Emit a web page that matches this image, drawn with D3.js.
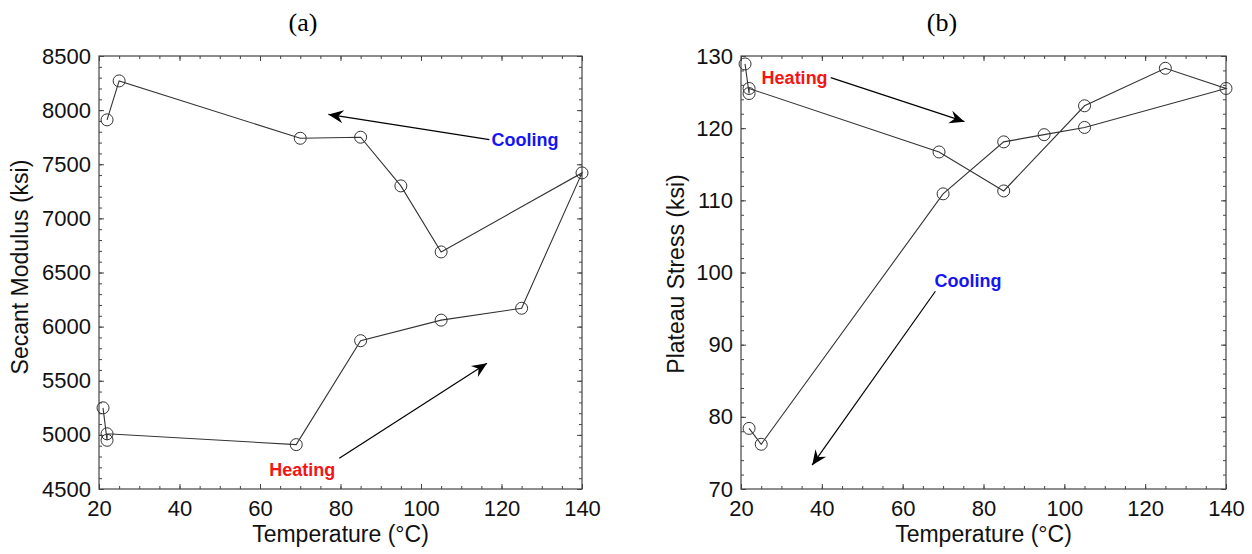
<!DOCTYPE html>
<html>
<head>
<meta charset="utf-8">
<script src="https://cdn.jsdelivr.net/npm/d3@7"></script>
<style>
  html, body { margin: 0; padding: 0; background: #fff; }
  svg { display: block; }
</style>
</head>
<body>
<svg id="chart" width="1252" height="554"></svg>
<script>
// ---------------- data ----------------
const temperatureA = [21, 22, 22, 69, 85, 105, 125, 140, 105, 95, 85, 70, 25, 22];
const secantModulus = [5250, 4950, 5010, 4910, 5870, 6060, 6170, 7420, 6690, 7300, 7750, 7740, 8270, 7910];

const temperatureB = [21, 22, 22, 69, 85, 105, 125, 140, 105, 95, 85, 70, 25, 22];
const plateauStress = [128.9, 124.8, 125.5, 116.7, 111.3, 123.1, 128.3, 125.5, 120.1, 119.1, 118.1, 110.9, 76.2, 78.4];

const xTicks = [20, 40, 60, 80, 100, 120, 140];
const yTicksA = [4500, 5000, 5500, 6000, 6500, 7000, 7500, 8000, 8500];
const yTicksB = [70, 80, 90, 100, 110, 120, 130];

// annotations (data coordinates)
const labelsA = [
  { text: "Cooling", x: 117.5, y: 7725, color: "#1414f5" },
  { text: "Heating", x: 62.3, y: 4675, color: "#f51414" }
];
const arrowsA = [
  { from: [117, 7727], to: [77, 7960] },
  { from: [79.7, 4784], to: [116.4, 5661] }
];
const labelsB = [
  { text: "Heating", x: 25.1, y: 127.0, color: "#f51414" },
  { text: "Cooling", x: 67.9, y: 98.8, color: "#1414f5" }
];
const arrowsB = [
  { from: [42.2, 127.0], to: [75.3, 120.9] },
  { from: [68.1, 97.4], to: [37.6, 73.3] }
];

// ---------------- drawing ----------------
const svg = d3.select("#chart");
const SANS = "'Liberation Sans', Arial, Helvetica, sans-serif";
const SERIF = "'Liberation Serif', 'Times New Roman', serif";

svg.append("defs").append("marker")
  .attr("id", "head")
  .attr("viewBox", "-16 -8 17 16")
  .attr("refX", 0).attr("refY", 0)
  .attr("markerUnits", "userSpaceOnUse")
  .attr("markerWidth", 17).attr("markerHeight", 16)
  .attr("orient", "auto")
  .append("path")
  .attr("d", "M0,0 L-15,-6.5 L-10,0 L-15,6.5 Z")
  .attr("fill", "#000");

function panel(cfg) {
  const x = d3.scaleLinear().domain([20, 140]).range(cfg.xr);
  const y = d3.scaleLinear().domain(cfg.yd).range([489, 56]);
  const g = svg.append("g");
  const [x0, x1] = cfg.xr;
  const y0 = 489, y1 = 56;

  const minorX = d3.range(20, 140.001, 5);
  const minorY = d3.range(cfg.yd[0], cfg.yd[1] + 1e-9, cfg.yMinor);

  const styleAxis = sel => {
    sel.select(".domain").remove();
    sel.selectAll(".tick line").attr("stroke", "#444").attr("stroke-width", 1);
    sel.selectAll(".tick text").attr("font-family", SANS).attr("font-size", 22).attr("fill", "#111");
  };

  // bottom
  g.append("g").attr("transform", `translate(0,${y0})`)
    .call(d3.axisBottom(x).tickValues(minorX).tickSize(-3).tickFormat(""))
    .call(styleAxis);
  g.append("g").attr("transform", `translate(0,${y0})`)
    .call(d3.axisBottom(x).tickValues(xTicks).tickSize(-5).tickPadding(11).tickFormat(d3.format("d")))
    .call(styleAxis);
  // top
  g.append("g").attr("transform", `translate(0,${y1})`)
    .call(d3.axisTop(x).tickValues(minorX).tickSize(-3).tickFormat(""))
    .call(styleAxis);
  g.append("g").attr("transform", `translate(0,${y1})`)
    .call(d3.axisTop(x).tickValues(xTicks).tickSize(-5).tickFormat(""))
    .call(styleAxis);
  // left
  g.append("g").attr("transform", `translate(${x0},0)`)
    .call(d3.axisLeft(y).tickValues(minorY).tickSize(-3).tickFormat(""))
    .call(styleAxis);
  g.append("g").attr("transform", `translate(${x0},0)`)
    .call(d3.axisLeft(y).tickValues(cfg.yTicks).tickSize(-5).tickPadding(8).tickFormat(d3.format("d")))
    .call(styleAxis);
  // right
  g.append("g").attr("transform", `translate(${x1},0)`)
    .call(d3.axisRight(y).tickValues(minorY).tickSize(-3).tickFormat(""))
    .call(styleAxis);
  g.append("g").attr("transform", `translate(${x1},0)`)
    .call(d3.axisRight(y).tickValues(cfg.yTicks).tickSize(-5).tickFormat(""))
    .call(styleAxis);

  // frame
  g.append("rect")
    .attr("x", x0).attr("y", y1)
    .attr("width", x1 - x0).attr("height", y0 - y1)
    .attr("fill", "none").attr("stroke", "#444").attr("stroke-width", 1.2);

  // data line
  const pts = cfg.xs.map((t, i) => [t, cfg.ys[i]]);
  g.append("path")
    .datum(pts)
    .attr("d", d3.line().x(d => x(d[0])).y(d => y(d[1])))
    .attr("fill", "none").attr("stroke", "#333").attr("stroke-width", 1.1);
  g.selectAll("circle.pt").data(pts).join("circle")
    .attr("class", "pt")
    .attr("cx", d => x(d[0])).attr("cy", d => y(d[1]))
    .attr("r", 6)
    .attr("fill", "none").attr("stroke", "#333").attr("stroke-width", 1);

  // arrows
  g.selectAll("line.arrow").data(cfg.arrows).join("line")
    .attr("class", "arrow")
    .attr("x1", d => x(d.from[0])).attr("y1", d => y(d.from[1]))
    .attr("x2", d => x(d.to[0])).attr("y2", d => y(d.to[1]))
    .attr("stroke", "#000").attr("stroke-width", 1.2)
    .attr("marker-end", "url(#head)");

  // colored labels
  g.selectAll("text.lab").data(cfg.labels).join("text")
    .attr("class", "lab")
    .attr("x", d => x(d.x)).attr("y", d => y(d.y))
    .attr("dy", "0.35em")
    .attr("font-family", SANS).attr("font-weight", "bold").attr("font-size", 18)
    .attr("fill", d => d.color)
    .text(d => d.text);

  // axis titles
  g.append("text")
    .attr("x", (x0 + x1) / 2).attr("y", 542)
    .attr("text-anchor", "middle")
    .attr("font-family", SANS).attr("font-size", 23).attr("fill", "#111")
    .text("Temperature (°C)");
  g.append("text")
    .attr("transform", `translate(${cfg.ytx},${cfg.yty}) rotate(-90)`)
    .attr("text-anchor", "middle")
    .attr("font-family", SANS).attr("font-size", 23).attr("fill", "#111")
    .text(cfg.yTitle);

  // panel title
  g.append("text")
    .attr("x", cfg.tx).attr("y", 31)
    .attr("text-anchor", "middle")
    .attr("font-family", SERIF).attr("font-size", 26).attr("fill", "#000")
    .text(cfg.title);
}

panel({
  xr: [99, 582], yd: [4500, 8500], yTicks: yTicksA, yMinor: 100,
  xs: temperatureA, ys: secantModulus,
  arrows: arrowsA, labels: labelsA,
  yTitle: "Secant Modulus (ksi)", ytx: 28, yty: 267,
  title: "(a)", tx: 303
});
panel({
  xr: [741, 1226], yd: [70, 130], yTicks: yTicksB, yMinor: 2,
  xs: temperatureB, ys: plateauStress,
  arrows: arrowsB, labels: labelsB,
  yTitle: "Plateau Stress (ksi)", ytx: 684, yty: 274,
  title: "(b)", tx: 942
});
</script>
</body>
</html>
